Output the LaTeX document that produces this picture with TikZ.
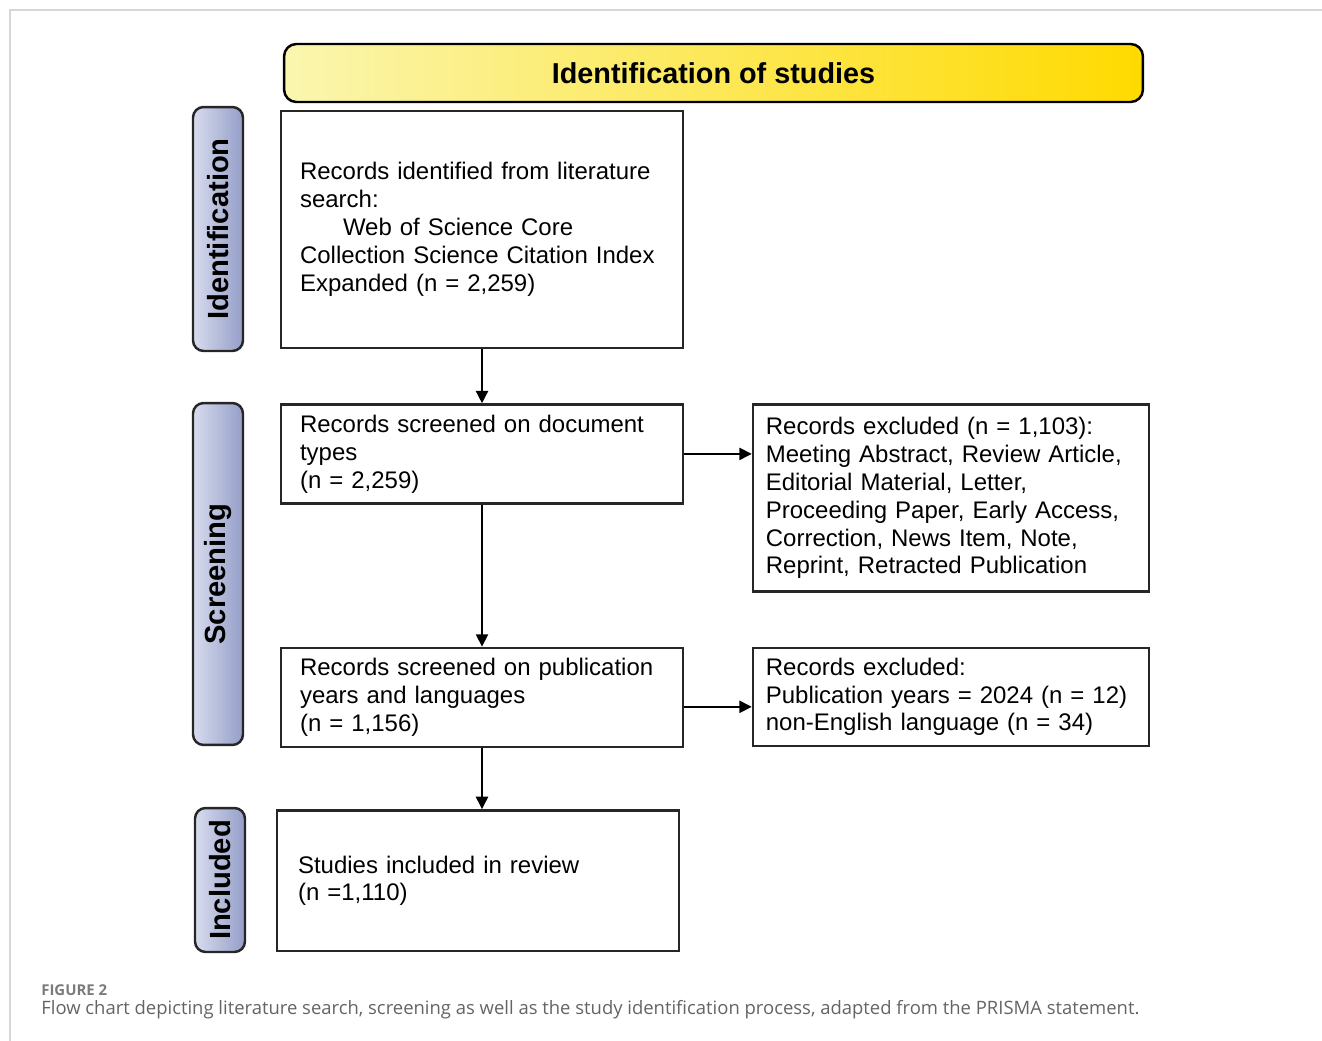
\documentclass[tikz,border=0pt]{standalone}
\usepackage{fontspec}
\setmainfont{Liberation Sans}
\newfontfamily\capfont{Open Sans}
\usepackage{tikz}
\usetikzlibrary{arrows.meta,positioning}
\definecolor{hdrpale}{RGB}{250,246,175}
\definecolor{hdrmid}{RGB}{255,236,20}
\definecolor{hdrgold}{RGB}{255,218,0}
\definecolor{sidepale}{RGB}{216,220,238}
\definecolor{sidedark}{RGB}{148,158,200}
\definecolor{capgray}{RGB}{100,100,100}
\definecolor{framegray}{RGB}{215,215,215}
\tikzset{
  flowbox/.style={rectangle,draw=black!85,line width=1.4pt,align=left,inner ysep=0pt,font=\fontsize{13.65}{15.9}\selectfont},
  mainbox/.style={flowbox,minimum width=8.04cm,inner xsep=0.38cm,text width=7.28cm},
  exclbox/.style={flowbox,minimum width=7.92cm,inner xsep=0.26cm,text width=7.4cm},
  hdrbox/.style={rectangle,rounded corners=7pt,draw=black,line width=1.4pt,left color=hdrpale,middle color=hdrmid,right color=hdrgold,font=\fontsize{16.4}{19}\selectfont\bfseries,minimum width=17.18cm,minimum height=1.16cm},
  sidebox/.style={rectangle,rounded corners=6pt,draw=black!85,line width=1.4pt,left color=sidepale,right color=sidedark,minimum width=1.0cm,inner sep=0pt,font=\fontsize{16.6}{19}\selectfont\bfseries},
  captext/.style={anchor=base west,inner sep=0pt,text=capgray,font=\capfont\fontsize{10.5}{12}\selectfont},
  arr/.style={-{Triangle[length=7pt,width=7pt]},line width=0.8pt,color=black}
}

\begin{document}
\begin{tikzpicture}[x=0.02cm,y=-0.02cm]
  \useasboundingbox (0,0) rectangle (1322,1041);
  \draw[framegray,line width=1.2pt] (10,1041) -- (10,10) -- (1322,10);

  \node[hdrbox] (hdr) at (713.5,73) {Identification of studies};

  \node[mainbox,minimum height=4.74cm] (search) at (482,229.5) {Records identified from literature\\search:\\\hspace*{0.86cm}Web of Science Core\\Collection Science Citation Index\\Expanded (n = 2,259)};
  \node[mainbox,minimum height=1.98cm,below=1.08cm of search] (doctype) {Records screened on document\\types\\(n = 2,259)};
  \node[mainbox,minimum height=1.98cm,below=2.84cm of doctype] (pubyear) {Records screened on publication\\years and languages\\(n = 1,156)};
  \node[mainbox,minimum height=2.82cm,below=1.22cm of pubyear,xshift=-0.08cm,inner xsep=0.42cm,text width=7.2cm] (incl) {Studies included in review\\(n =1,110)};

  \node[exclbox,minimum height=3.74cm,right=1.35cm of doctype.north east,anchor=north west] (exdoc) {Records excluded (n = 1,103):\\Meeting Abstract, Review Article,\\Editorial Material, Letter,\\Proceeding Paper, Early Access,\\Correction, News Item, Note,\\Reprint, Retracted Publication};
  \node[exclbox,minimum height=1.96cm,right=1.35cm of pubyear.north east,anchor=north west] (exyear) {Records excluded:\\Publication years = 2024 (n = 12)\\non-English language (n = 34)};

  \node[sidebox,minimum height=4.88cm] (sideid) at (218,229) {\rotatebox{90}{Identification}};
  \node[sidebox,minimum height=6.84cm] (sidescr) at (218,574) {\rotatebox{90}{Screening}};
  \node[sidebox,minimum height=2.88cm] (sideinc) at (220,880) {\rotatebox{90}{Included}};

  \draw[arr] (search.south)--(doctype.north);
  \draw[arr] (doctype.south)--(pubyear.north);
  \draw[arr] (pubyear.south)--(pubyear.south|-incl.north);
  \draw[arr] (doctype.east)--(doctype.east-|exdoc.west);
  \draw[arr] ([yshift=-0.19cm]pubyear.east)--([yshift=-0.19cm]pubyear.east-|exyear.west);

  \node[captext,font=\capfont\fontsize{8.5}{10}\selectfont\bfseries,text=capgray!85] (figno) at (41,995) {FIGURE 2};
  \node[captext] (figcap) at (41,1014) {Flow chart depicting literature search, screening as well as the study identification process, adapted from the PRISMA statement.};
\end{tikzpicture}
\end{document}
